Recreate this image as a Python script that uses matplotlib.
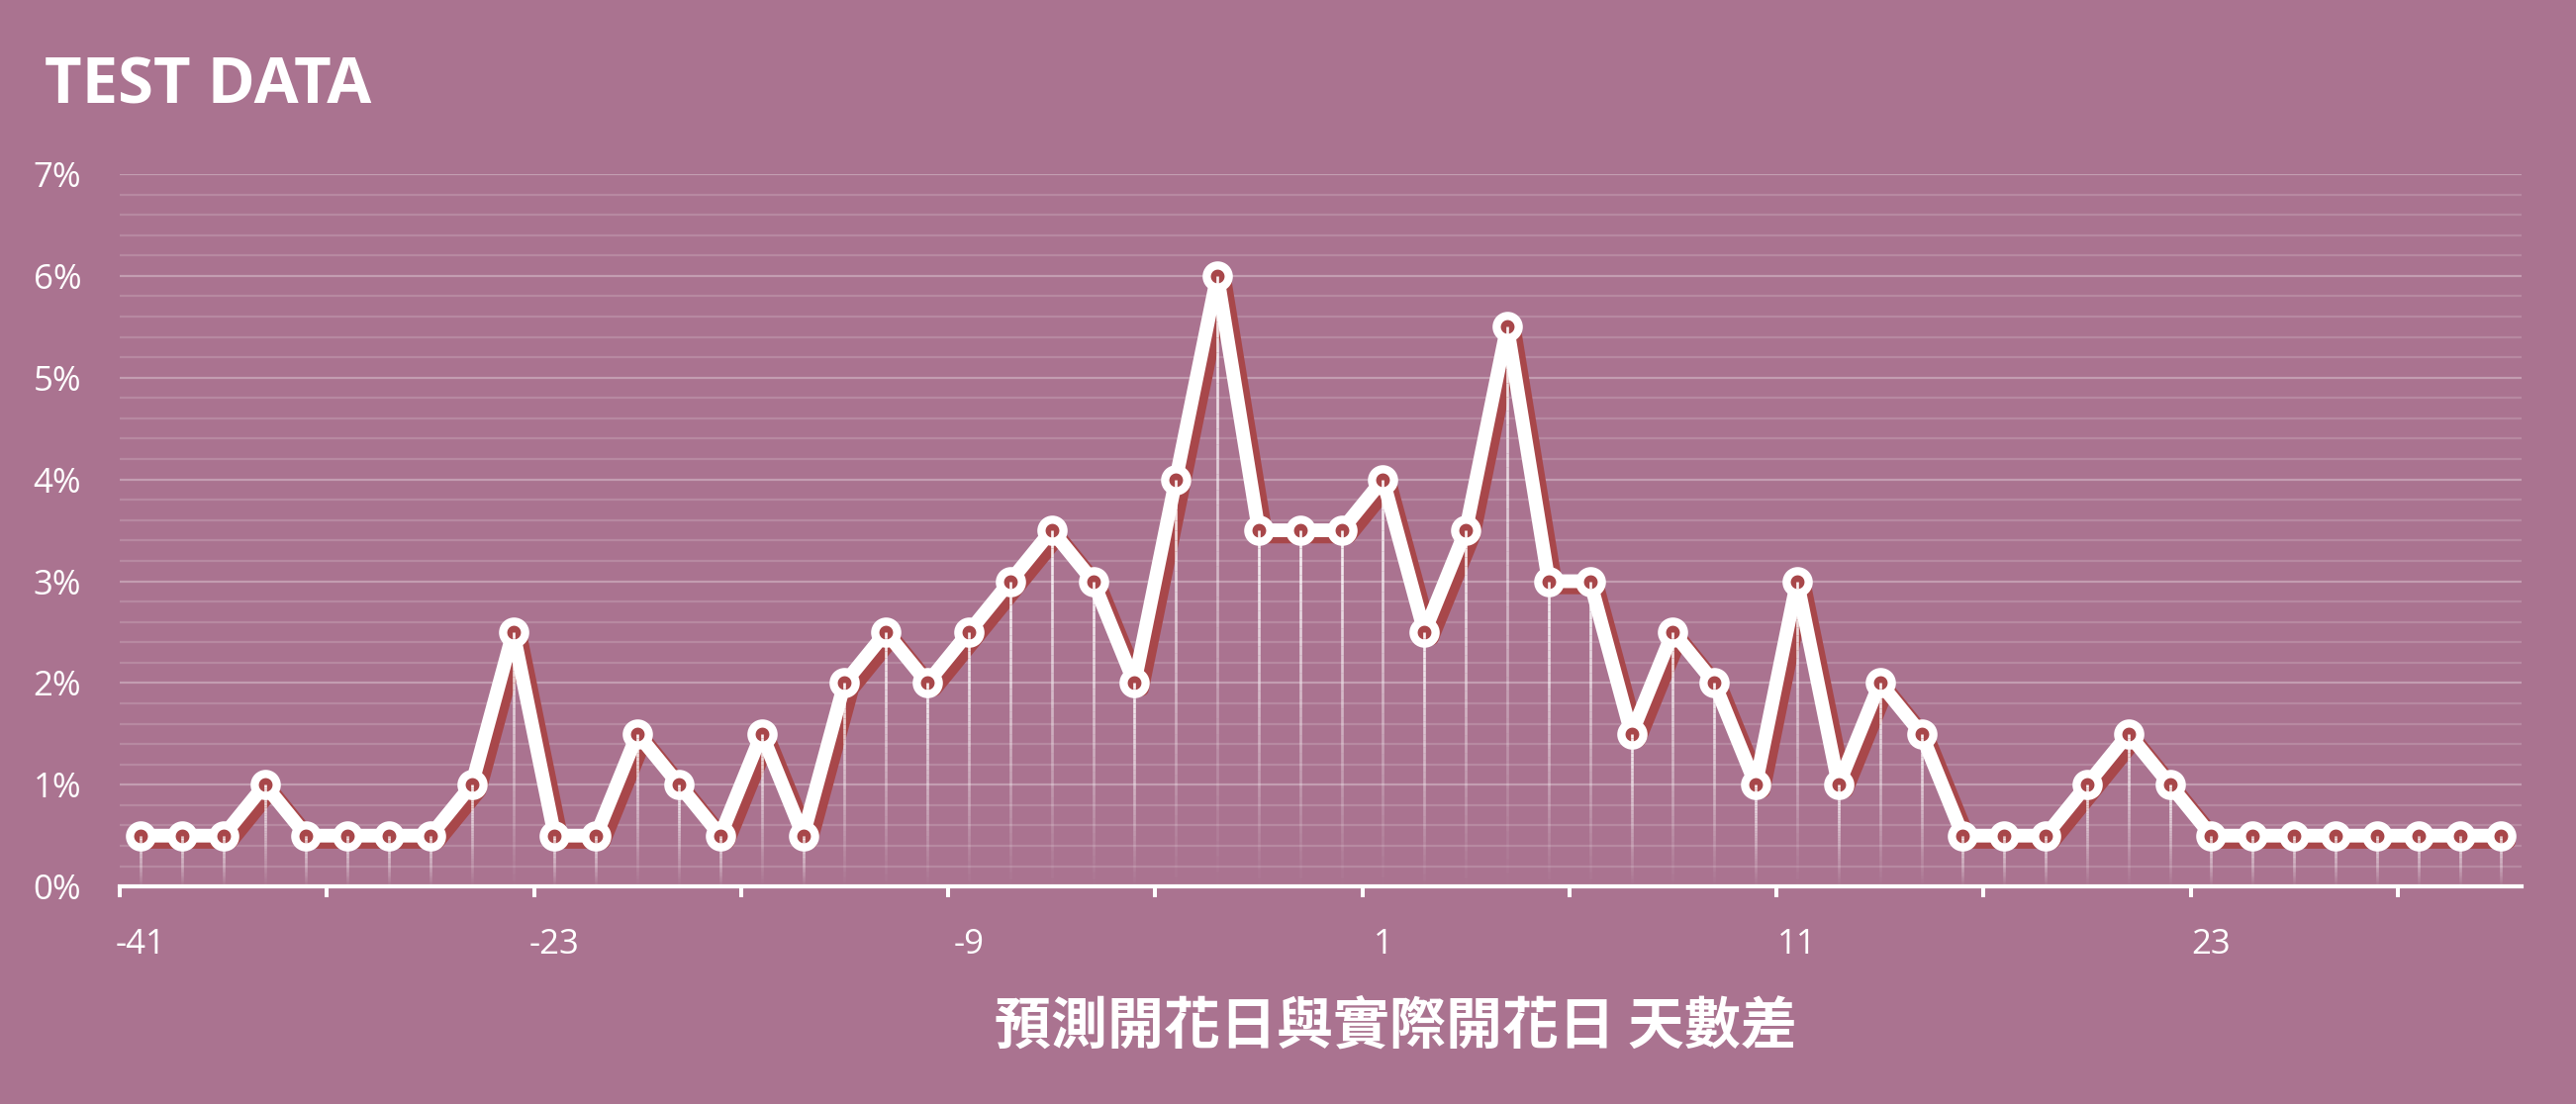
import numpy as np
import matplotlib
matplotlib.use('Agg')
import matplotlib.pyplot as plt
import matplotlib.patheffects as pe
from matplotlib.collections import LineCollection
from matplotlib.ticker import FuncFormatter

# day difference (predicted - actual bloom date), only labelled every 10th category
days = [-41, -38, -36, -34, -32, -30, -28, -27, -26, -24,
        -23, -22, -21, -19, -17, -15, -14, -13, -11, -10,
        -9, -8, -7, -6, -5, -4, -3, -2, -1, 0,
        1, 2, 3, 4, 5, 6, 7, 8, 9, 10,
        11, 12, 13, 14, 15, 16, 17, 19, 21, 22,
        23, 24, 25, 26, 27, 28, 29, 31]

# share of samples (%)
pct = [0.5, 0.5, 0.5, 1.0, 0.5, 0.5, 0.5, 0.5, 1.0, 2.5,
       0.5, 0.5, 1.5, 1.0, 0.5, 1.5, 0.5, 2.0, 2.5, 2.0,
       2.5, 3.0, 3.5, 3.0, 2.0, 4.0, 6.0, 3.5, 3.5, 3.5,
       4.0, 2.5, 3.5, 5.5, 3.0, 3.0, 1.5, 2.5, 2.0, 1.0,
       3.0, 1.0, 2.0, 1.5, 0.5, 0.5, 0.5, 1.0, 1.5, 1.0,
       0.5, 0.5, 0.5, 0.5, 0.5, 0.5, 0.5, 0.5]

title = 'TEST DATA'
xlabel = '預測開花日與實際開花日 天數差'

bg = '#AA7390'
red = '#A8474A'

x = np.arange(len(days))
y = np.array(pct) / 100.0

fig = plt.figure(figsize=(26.03, 11.16), dpi=100, facecolor=bg)
ax = fig.add_axes([0.0465, 0.197, 0.9325, 0.6453])
ax.set_facecolor(bg)

# white line with dark red shadow
ax.plot(x, y, color='white', lw=10, solid_joinstyle='round', solid_capstyle='round', zorder=4,
        path_effects=[pe.SimpleLineShadow(offset=(5.5, -4.5), shadow_color=red, alpha=1.0),
                      pe.Normal()])
ax.plot(x, y, ls='none', marker='o', ms=16, mfc=red, mec='white', mew=6, zorder=5)

# drop lines, fading toward the axis
segs, cols = [], []
n = 40
for xi, yi in zip(x, y):
    ys = np.linspace(0, yi, n + 1)
    for k in range(n):
        segs.append([(xi, ys[k]), (xi, ys[k + 1])])
        cols.append((1, 1, 1, 0.95 * (k + 0.5) / n))
ax.add_collection(LineCollection(segs, colors=cols, linewidths=1.9, capstyle='butt', zorder=6))

ax.set_xlim(-0.5, len(days) - 0.5)
ax.set_ylim(0, 0.07)

# y axis
ax.set_yticks(np.arange(0, 0.0701, 0.01))
ax.set_yticks(np.arange(0, 0.0701, 0.002), minor=True)
ax.yaxis.set_major_formatter(FuncFormatter(lambda v, p: f'{v*100:.0f}%'))
ax.grid(axis='y', which='major', color='white', alpha=0.3, lw=1.6)
ax.grid(axis='y', which='minor', color='white', alpha=0.16, lw=1.6)
ax.set_axisbelow(True)
ax.tick_params(axis='y', which='both', length=0, pad=28, labelcolor='white', labelsize=25)

# x axis: labels every 10 categories, tick marks every 5 category boundaries
lab_pos = x[::10]
ax.set_xticks(lab_pos)
ax.set_xticklabels([str(days[i]) for i in lab_pos])
ax.set_xticks(np.arange(-0.5, len(days) - 1, 5), minor=True)
ax.tick_params(axis='x', which='major', length=0, pad=30, labelcolor='white', labelsize=25)
ax.tick_params(axis='x', which='minor', length=8, width=2.9, color='white', direction='out')

for lab in ax.get_xticklabels() + ax.get_yticklabels():
    lab.set_fontfamily(['Open Sans', 'DejaVu Sans'])

for s in ['left', 'right', 'top']:
    ax.spines[s].set_visible(False)
ax.spines['bottom'].set_color('white')
ax.spines['bottom'].set_linewidth(3)
ax.spines['bottom'].set_zorder(7)

fig.text(0.0173, 0.950, title, color='white', fontsize=47, fontweight='bold',
         family=['Open Sans', 'DejaVu Sans'], ha='left', va='top')
fig.text(0.542, 0.07, xlabel, color='white', fontsize=41, fontweight='bold',
         family=['Noto Sans CJK TC', 'DejaVu Sans'], ha='center', va='center')

fig.savefig('out.png', dpi=100, facecolor=bg)
